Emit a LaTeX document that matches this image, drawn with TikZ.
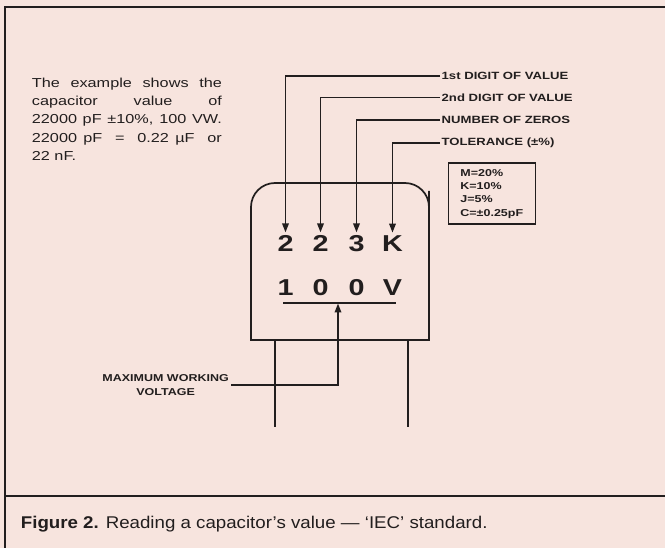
\documentclass[tikz,border=0pt]{standalone}
\usepackage{fontspec}
\setmainfont{Liberation Sans}
\newfontfamily\widesf[FakeStretch=1.25]{Liberation Sans}
\newfontfamily\capsf[FakeStretch=1.1]{Liberation Sans}
\usetikzlibrary{positioning, arrows.meta}
\definecolor{paper}{RGB}{247,228,222}
\definecolor{ink}{RGB}{34,30,30}
\tikzset{
  digit/.style = {
    anchor=base, inner sep=3pt, text=ink,
    font=\widesf\bfseries\fontsize{23}{26}\selectfont,
  },
  codelabel/.style = {
    anchor=west, inner sep=1.5pt, text=ink,
    font=\widesf\bfseries\fontsize{10.5}{12}\selectfont,
  },
  codebox/.style = {
    draw=ink, line width=1.6pt, align=left, text=ink,
    minimum width=87pt, minimum height=61pt,
    font=\widesf\bfseries\fontsize{10}{13.3}\selectfont,
  },
  blurb/.style = {
    anchor=north west, inner sep=0pt, align=left, text=ink,
    font=\widesf\fontsize{13}{18.3}\selectfont,
  },
  wire/.style = {draw=ink, line width=1.7pt},
  arrow/.style = {wire, -{Triangle[length=9pt, width=6.5pt]}},
  border/.style = {draw=ink, line width=2.2pt},
}
\begin{document}
\begin{tikzpicture}[x=1pt, y=-1pt]
    \fill[paper] (0,0) rectangle (665,548);
    \useasboundingbox (0,0) rectangle (665,548);

    % --- Frame ---
    \draw[border] (665,7) -- (5,7) -- (5,548);
    \draw[border] (5,496) -- (665,496);

    % --- Capacitor body and leads ---
    \draw[wire] (251,340) -- (251,215) [rounded corners=24pt] -- (251,183)
      -- (429,183) -- (429,215) [sharp corners] -- (429,340) -- cycle;
    \draw[wire] (275,340) -- (275,427);
    \draw[wire] (408,340) -- (408,427);

    % --- Nodes ---
    \node[blurb] (note) at (31.7,77.5) {%
      \makebox[190pt][s]{The example shows the}\\
      \makebox[190pt][s]{capacitor value of}\\
      \makebox[190pt][s]{22000 pF ±10\%, 100 VW.}\\
      \makebox[190pt][s]{22000 pF \ = \ 0.22 µF \ or}\\
      22 nF.};

    \node[digit] (d1) at (285.5,251.7) {2};
    \node[digit] (d2) at (320.5,251.7) {2};
    \node[digit] (d3) at (356.5,251.7) {3};
    \node[digit] (d4) at (392.5,251.7) {K};
    \node[digit] (v1) at (285.5,296) {1};
    \node[digit] (v2) at (320.5,296) {0};
    \node[digit] (v3) at (356.5,296) {0};
    \node[digit] (v4) at (392.5,296) {V};

    \coordinate (ulL) at (283,303);
    \coordinate (ulR) at (396,303);
    \coordinate (ulM) at (338,303.5);

    \node[codelabel] (lbl1) at (440,76) {1st DIGIT OF VALUE};
    \node[codelabel, below=21.5pt of lbl1.west, anchor=west] (lbl2) {2nd DIGIT OF VALUE};
    \node[codelabel, below=22.5pt of lbl2.west, anchor=west] (lbl3) {NUMBER OF ZEROS};
    \node[codelabel, below=23pt of lbl3.west, anchor=west] (lbl4) {TOLERANCE (±\%)};

    \node[codebox, anchor=north west] (key) at (447.5,162.5)
      {M=20\%\\K=10\%\\J=5\%\\C=±0.25pF};

    \node[codelabel, anchor=east, align=center, inner sep=2pt,
      font=\widesf\bfseries\fontsize{10}{13.3}\selectfont] (mwv) at (231,385)
      {MAXIMUM WORKING\\VOLTAGE};

    \node[anchor=base west, inner sep=0pt, text=ink,
      font=\capsf\fontsize{17}{20}\selectfont] (caption) at (20.7,528.7)
      {\textbf{Figure 2.} Reading a capacitor’s value — ‘IEC’ standard.};

    % --- Arrows ---
    \draw[arrow] (lbl1.west) -| (d1.north);
    \draw[arrow] (lbl2.west) -| (d2.north);
    \draw[arrow] (lbl3.west) -| (d3.north);
    \draw[arrow] (lbl4.west) -| (d4.north);
    \draw[wire] (ulL) -- (ulR);
    \draw[arrow] (mwv.east) -| (ulM);
\end{tikzpicture}
\end{document}
